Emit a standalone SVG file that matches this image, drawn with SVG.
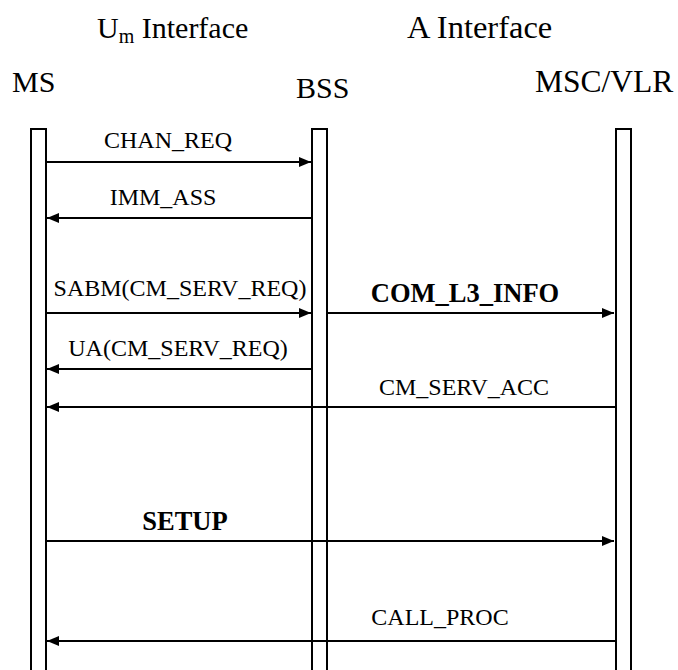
<svg xmlns="http://www.w3.org/2000/svg" width="678" height="670" viewBox="0 0 678 670">
<style>
text{font-family:'Liberation Serif','Times New Roman',serif;fill:#000}
.hdr{font-size:30px}
.msg{font-size:24px;text-anchor:middle}
.bold{font-weight:bold;font-size:26.5px}
.life{fill:none;stroke:#000;stroke-width:2}
.arr{stroke:#000;stroke-width:2;fill:none;marker-end:url(#ah)}
</style>
<defs>
<marker id="ah" markerWidth="12" markerHeight="10" refX="12" refY="5" orient="auto" markerUnits="userSpaceOnUse">
<path d="M0,0 L12,5 L0,10 Z" fill="#000"/>
</marker>
</defs>
<rect width="678" height="670" fill="#fff"/>
<g id="headers">
<text class="hdr" x="97" y="38" font-size="31">U<tspan font-size="20" dy="5">m</tspan><tspan dy="-5"> Interface</tspan></text>
<text class="hdr" x="407" y="38" style="font-size:32.5px">A Interface</text>
</g>
<g id="MS">
<text class="hdr" x="12" y="92">MS</text>
<path class="life" d="M31,670 V129 H46 V670"/>
</g>
<g id="BSS">
<text class="hdr" x="296" y="98">BSS</text>
<path class="life" d="M312,670 V129 H327 V670"/>
</g>
<g id="MSC">
<text class="hdr" x="535" y="92" style="font-size:31.5px">MSC/VLR</text>
<path class="life" d="M616,670 V129 H631 V670"/>
</g>
<g id="connectors">
<line class="arr" x1="46" y1="162" x2="311" y2="162"/>
<text class="msg" x="168" y="148">CHAN_REQ</text>
<line class="arr" x1="312" y1="218" x2="47" y2="218"/>
<text class="msg" x="163" y="205">IMM_ASS</text>
<line class="arr" x1="46" y1="313" x2="311" y2="313"/>
<text class="msg" x="180" y="296">SABM(CM_SERV_REQ)</text>
<line class="arr" x1="312" y1="369" x2="47" y2="369"/>
<text class="msg" x="178" y="356">UA(CM_SERV_REQ)</text>
<line class="arr" x1="328" y1="313" x2="614" y2="313"/>
<text class="msg bold" x="465" y="302">COM_L3_INFO</text>
<line class="arr" x1="616" y1="407" x2="47" y2="407"/>
<text class="msg" x="464" y="395">CM_SERV_ACC</text>
<line class="arr" x1="46" y1="541" x2="614" y2="541"/>
<text class="msg bold" x="185" y="530">SETUP</text>
<line class="arr" x1="616" y1="641" x2="47" y2="641"/>
<text class="msg" x="440" y="625">CALL_PROC</text>
</g>
</svg>
